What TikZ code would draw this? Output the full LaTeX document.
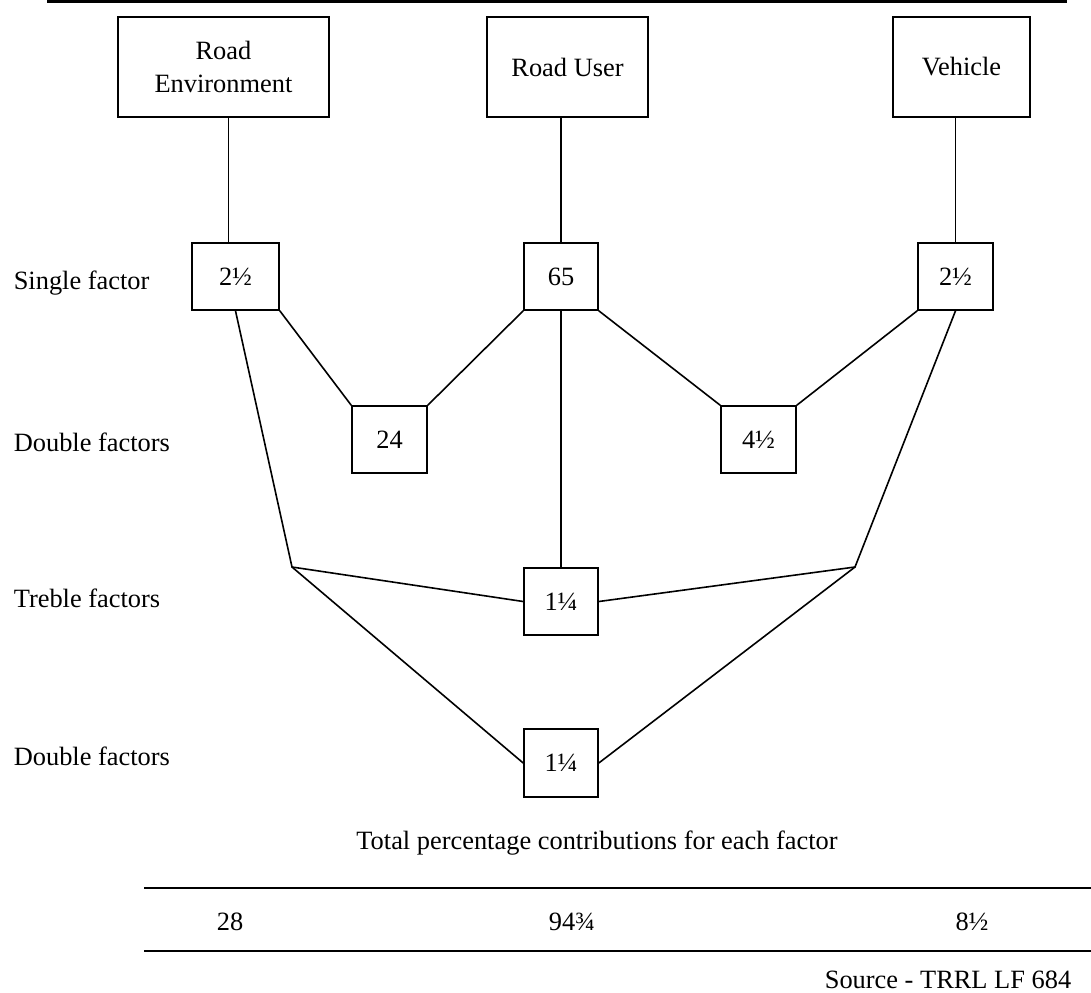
\documentclass[tikz,border=0pt]{standalone}
\usepackage{fontspec}
\setmainfont{Liberation Serif}
\usepackage{tikz}

\begin{document}
\begin{tikzpicture}[x=0.5pt, y=-0.5pt, line width=0.8pt,
    font=\fontsize{13.2}{15.5}\selectfont,
    box/.style={draw=black, inner sep=0pt, minimum height=33.5pt, align=center},
    rowlabel/.style={anchor=west, inner sep=0pt}]
    \useasboundingbox (0,0) rectangle (1091,992);
    \draw[line width=1.5pt] (47,1.5) -- (1067,1.5);

    % the three factors
    \node[box, minimum width=105.5pt, minimum height=50pt] (renv) at (223.5,67) {Road\\[1pt]Environment};
    \node[box, minimum width=80.5pt, minimum height=50pt] (ruser) at (567.5,67) {Road User};
    \node[box, minimum width=68.5pt, minimum height=50pt] (veh) at (961.5,67) {Vehicle};

    % contributions
    \node[box, minimum width=43.5pt] (sleft) at (235.5,276.5) {2½};
    \node[box, minimum width=37pt] (s65) at (561,276.5) {65};
    \node[box, minimum width=37.5pt] (sright) at (955.5,276.5) {2½};
    \node[box, minimum width=37.5pt] (d24) at (389.5,439.5) {24};
    \node[box, minimum width=37.5pt] (d45) at (758.5,439.5) {4½};
    \node[box, minimum width=37pt] (treble) at (561,601.5) {1¼};
    \node[box, minimum width=37pt, minimum height=34pt] (dbl) at (561,763) {1¼};
    \coordinate (jl) at (292,567);
    \coordinate (jr) at (855,567);

    \draw ([xshift=2.5pt]renv.south) -- ([xshift=2.5pt]renv.south |- sleft.north);
    \draw (ruser.south -| s65) -- (s65.north);
    \draw (veh.south -| sright) -- (sright.north);
    \draw (sleft.south east) -- (d24.north west);
    \draw (d24.north east) -- (s65.south west);
    \draw (s65.south east) -- (d45.north west);
    \draw (d45.north east) -- (sright.south west);
    \draw (s65.south) -- (treble.north);
    \draw (sleft.south) -- (jl) -- (treble.west);
    \draw (jl) -- (dbl.west);
    \draw (sright.south) -- (jr) -- (treble.east);
    \draw (jr) -- (dbl.east);

    \node[rowlabel] (lsingle) at (13,283) {Single factor};
    \node[rowlabel] (ldouble) at (13,442) {Double factors};
    \node[rowlabel] (ltreble) at (13,598) {Treble factors};
    \node[rowlabel] (ldbl) at (13,756) {Double factors};

    % totals
    \node (total) at (597,843) {Total percentage contributions for each factor};
    \draw[line width=1pt] (144,888) -- (1091,888);
    \draw[line width=1pt] (144,951) -- (1091,951);
    \foreach \x/\v/\n in {230/28/tenv, 572/94¾/tuser, 972/8½/tveh}
      \node (\n) at (\x,922) {\v};
    \node[anchor=south east, inner sep=1pt] (source) at (1074,992) {Source - TRRL LF 684};
\end{tikzpicture}
\end{document}
